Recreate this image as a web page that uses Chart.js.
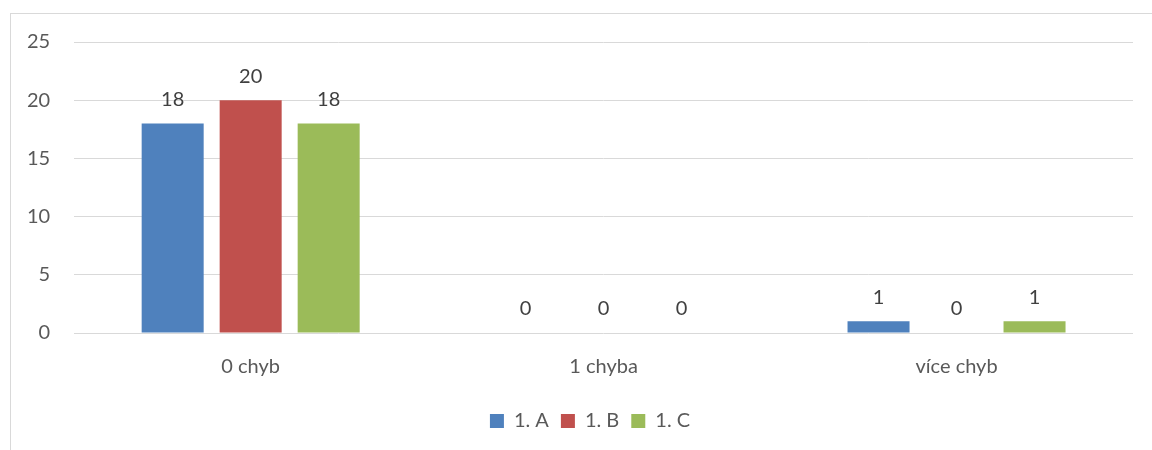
<!DOCTYPE html>
<html>
<head>
<meta charset="utf-8">
<script src="https://cdn.jsdelivr.net/npm/chart.js@4/dist/chart.umd.min.js"></script>
<style>
  html, body { margin: 0; padding: 0; background: #fff; overflow: hidden; }
  #wrap { position: relative; width: 1152px; height: 450px; }
  #frame { position: absolute; left: 10px; top: 13px; width: 1200px; height: 500px; border: 1px solid #d9d9d9; }
  #myChart { position: absolute; left: 0; top: 0; }
</style>
</head>
<body>
<div id="wrap">
  <div id="frame"></div>
  <canvas id="myChart" width="1152" height="450"></canvas>
</div>
<script>
const categories = ["0 chyb", "1 chyba", "více chyb"];
const seriesNames = ["1. A", "1. B", "1. C"];
const valuesA = [18, 0, 1];
const valuesB = [20, 0, 0];
const valuesC = [18, 0, 1];
const yTicks = [0, 5, 10, 15, 20, 25];

const colors = ["#4F81BD", "#C0504D", "#9BBB59"];
const textColor = "#595959";
const fontFamily = "Lato, 'Open Sans', sans-serif";
const fontSize = 20;

// value labels drawn above each bar
const valueLabels = {
  id: "valueLabels",
  afterDatasetsDraw(chart) {
    const ctx = chart.ctx;
    ctx.save();
    ctx.font = fontSize + "px " + fontFamily;
    ctx.fillStyle = "#404040";
    ctx.textAlign = "center";
    ctx.textBaseline = "middle";
    chart.data.datasets.forEach((ds, i) => {
      chart.getDatasetMeta(i).data.forEach((bar, j) => {
        ctx.fillText(String(ds.data[j]), bar.x, bar.y - 24);
      });
    });
    ctx.restore();
  },
};

// nudge the legend row a bit to the right
const legendShift = {
  id: "legendShift",
  afterLayout(chart) {
    chart.legend.left += 22;
    chart.legend.right += 22;
  },
};

new Chart(document.getElementById("myChart"), {
  type: "bar",
  data: {
    labels: categories,
    datasets: [
      { label: seriesNames[0], data: valuesA, backgroundColor: colors[0] },
      { label: seriesNames[1], data: valuesB, backgroundColor: colors[1] },
      { label: seriesNames[2], data: valuesC, backgroundColor: colors[2] },
    ],
  },
  options: {
    responsive: false,
    animation: false,
    categoryPercentage: 0.663,
    barPercentage: 0.795,
    layout: { padding: { top: 42, left: 3, right: 19, bottom: 9 } },
    plugins: {
      tooltip: { enabled: false },
      legend: {
        position: "bottom",
        // empty title only adds space above the legend row
        title: { display: true, text: "", font: { size: 1, lineHeight: 1 }, padding: { top: 0, bottom: 5 } },
        labels: {
          boxWidth: 14,
          boxHeight: 14,
          padding: 12,
          color: textColor,
          font: { family: fontFamily, size: fontSize },
        },
      },
    },
    scales: {
      x: {
        grid: { display: false },
        border: { display: false },
        ticks: { color: textColor, font: { family: fontFamily, size: fontSize }, padding: 14 },
      },
      y: {
        min: 0,
        max: 25,
        afterBuildTicks(axis) {
          axis.ticks = yTicks.map((v) => ({ value: v }));
        },
        grid: { color: "#d9d9d9", lineWidth: 1, drawTicks: false },
        border: { display: false },
        ticks: { color: textColor, font: { family: fontFamily, size: fontSize }, padding: 24 },
      },
    },
  },
  plugins: [valueLabels, legendShift],
});
</script>
</body>
</html>
